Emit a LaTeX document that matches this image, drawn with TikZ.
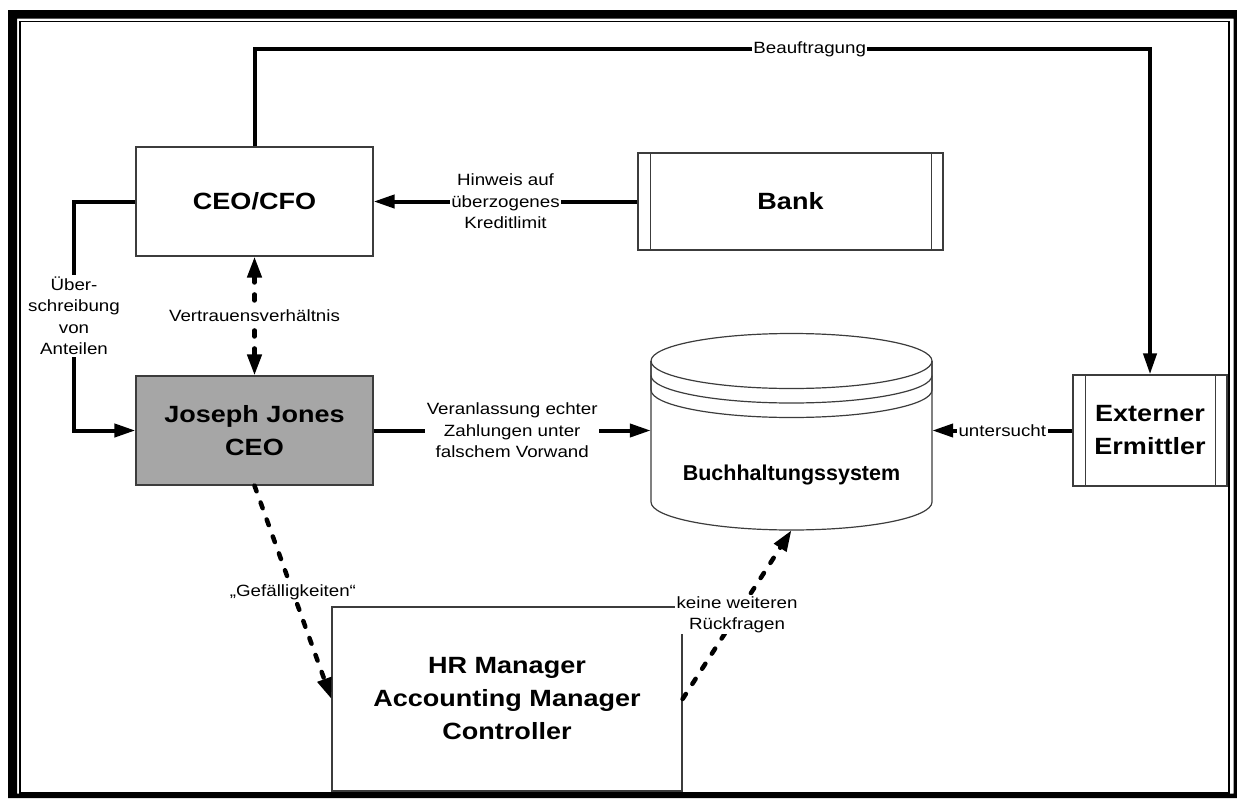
\documentclass[tikz,border=0pt]{standalone}
\usepackage{fontspec}
\setmainfont{Liberation Sans}
\newfontfamily\wideface{Liberation Sans}[FakeStretch=1.15]
\usetikzlibrary{arrows.meta}
\definecolor{boxline}{RGB}{60,60,60}
\definecolor{jjgray}{RGB}{166,166,166}

\begin{document}
\begin{tikzpicture}[x=1pt,y=-1pt,
  box/.style={draw=boxline, line width=1.2pt, fill=white, inner sep=0pt,
    align=center, font=\wideface\bfseries\fontsize{23.5}{33}\selectfont},
  lbl/.style={fill=white, inner sep=1.5pt, align=center,
    font=\wideface\fontsize{16.3}{21.5}\selectfont},
  tip/.style={-{Triangle[length=21pt,width=13pt]}},
  conn/.style={line width=4pt, tip},
  dconn/.style={line width=4.5pt, line cap=round, dash pattern=on 6pt off 12pt},
  dtip/.style={{Triangle[length=21pt,width=14pt]}-{Triangle[length=21pt,width=14pt]}},
  dend/.style={-{Triangle[length=21pt,width=14pt]}}
]
\useasboundingbox (0,0) rectangle (1237,798);

% frame
\fill[black, even odd rule] (8,10) rectangle (1237,798) (17,18.5) rectangle (1233.5,793.5);
\draw[line width=1.6pt] (20,21.5) rectangle (1229,793);

% boxes
\node[box, minimum width=237pt, minimum height=109pt] (cfo) at (254.5,201.5) {CEO/CFO};
\node[box, fill=jjgray, minimum width=237pt, minimum height=109pt] (jj) at (254.5,430.5) {Joseph Jones\\CEO};
\node[box, minimum width=305pt, minimum height=97pt] (bank) at (790.5,201.5) {Bank};
\draw[boxline, line width=1.2pt] ([xshift=13pt]bank.north west) -- ([xshift=13pt]bank.south west)
  ([xshift=-12pt]bank.north east) -- ([xshift=-12pt]bank.south east);
\node[box, minimum width=154pt, minimum height=111pt] (ext) at (1150,430.5) {Externer\\Ermittler};
\draw[boxline, line width=1.2pt] ([xshift=13pt]ext.north west) -- ([xshift=13pt]ext.south west)
  ([xshift=-12pt]ext.north east) -- ([xshift=-12pt]ext.south east);
\node[box, minimum width=350pt, minimum height=184pt] (hr) at (507,699) {HR Manager\\Accounting Manager\\Controller};

% database cylinder
\node[inner sep=0pt, minimum width=281pt, minimum height=197pt] (db) at (791.5,431.5) {};
\draw[boxline, line width=1.2pt, fill=white] (651,361) -- (651,502)
  arc[start angle=180, end angle=0, x radius=140.5, y radius=28] -- (932,361);
\draw[boxline, line width=1.2pt] (791.5,361) ellipse [x radius=140.5, y radius=27.5];
\draw[boxline, line width=1.2pt] (651,361) -- (651,375.5) arc[start angle=180, end angle=0, x radius=140.5, y radius=27.5] -- (932,361);
\draw[boxline, line width=1.2pt] (651,375.5) -- (651,390) arc[start angle=180, end angle=0, x radius=140.5, y radius=27.5] -- (932,375.5);
\node[anchor=base, font=\bfseries\fontsize{21.5}{26}\selectfont] (dbtext) at (791.5,480) {Buchhaltungssystem};

% connectors
\coordinate (top) at (0,49);
\coordinate (lx) at (74,0);
\draw[conn] (cfo.north) -- (cfo.north |- top) -- node[lbl, pos=0.62] {Beauftragung} (ext.north |- top) -- (ext.north);
\draw[conn] (bank.west) -- node[lbl] {Hinweis auf\\überzogenes\\Kreditlimit} (cfo.east);
\draw[conn] (cfo.west) -- (cfo.west -| lx) -- node[lbl] {Über-\\schreibung\\von\\Anteilen} (jj.west -| lx) -- (jj.west);
\draw[dconn, dtip] (cfo.south) -- node[lbl] {Vertrauensverhältnis} (jj.north);
\draw[conn] (jj.east) -- node[lbl] {Veranlassung echter\\Zahlungen unter\\falschem Vorwand} (jj.east -| db.west);
\draw[conn] (ext.west) -- node[lbl] {untersucht} (ext.west -| db.east);
\draw[dconn, dend] (jj.south) -- node[lbl] {„Gefälligkeiten“} (hr.west);
\draw[dconn, dend] (hr.east) -- node[lbl] {keine weiteren\\Rückfragen} (db.south);
\end{tikzpicture}
\end{document}
